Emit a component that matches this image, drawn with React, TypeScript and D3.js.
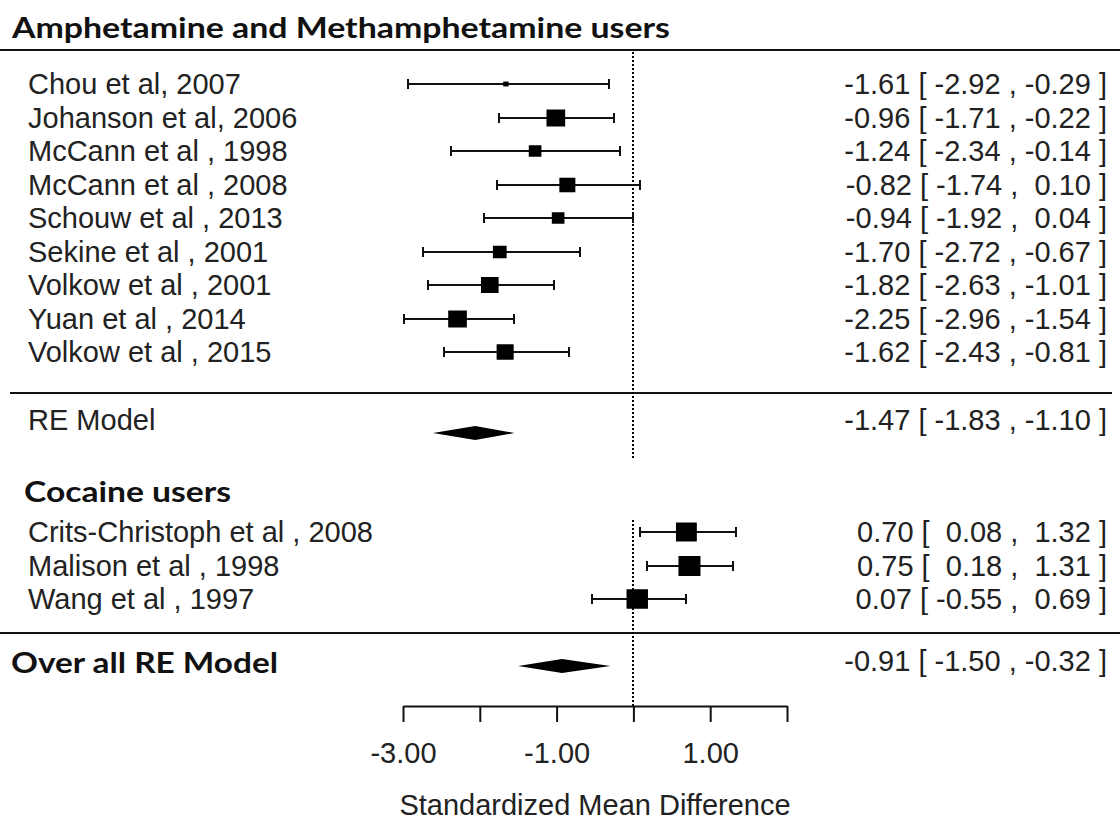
import { useEffect, useRef } from "react";
import * as d3 from "d3";

// Amphetamine / methamphetamine studies
const amphStudies = [
  "Chou et al, 2007",
  "Johanson et al, 2006",
  "McCann et al , 1998",
  "McCann et al , 2008",
  "Schouw et al , 2013",
  "Sekine et al , 2001",
  "Volkow et al , 2001",
  "Yuan et al , 2014",
  "Volkow et al , 2015",
];
const amphEst = [-1.66, -1.01, -1.28, -0.86, -0.98, -1.74, -1.87, -2.29, -1.67];
const amphLo = [-2.94, -1.75, -2.37, -1.77, -1.94, -2.74, -2.67, -2.99, -2.47];
const amphHi = [-0.32, -0.25, -0.17, 0.08, 0.0, -0.69, -1.04, -1.56, -0.84];
const amphWeight = [0.6, 7.2, 3.3, 5.3, 3.3, 3.9, 6.4, 7.2, 6.0];
const amphCiText = [
  "-1.61 [ -2.92 , -0.29 ]",
  "-0.96 [ -1.71 , -0.22 ]",
  "-1.24 [ -2.34 , -0.14 ]",
  "-0.82 [ -1.74 ,  0.10 ]",
  "-0.94 [ -1.92 ,  0.04 ]",
  "-1.70 [ -2.72 , -0.67 ]",
  "-1.82 [ -2.63 , -1.01 ]",
  "-2.25 [ -2.96 , -1.54 ]",
  "-1.62 [ -2.43 , -0.81 ]",
];

// Cocaine studies
const cocStudies = [
  "Crits-Christoph et al , 2008",
  "Malison et al , 1998",
  "Wang et al , 1997",
];
const cocEst = [0.69, 0.73, 0.05];
const cocLo = [0.08, 0.18, -0.54];
const cocHi = [1.33, 1.3, 0.68];
const cocWeight = [9.0, 10.0, 9.5];
const cocCiText = [
  "0.70 [  0.08 ,  1.32 ]",
  "0.75 [  0.18 ,  1.31 ]",
  "0.07 [ -0.55 ,  0.69 ]",
];

// Summary diamonds (RE Model, overall)
const summaryLabels = ["RE Model", "Over all RE Model"];
const summaryEst = [-2.06, -0.93];
const summaryLo = [-2.61, -1.5];
const summaryHi = [-1.55, -0.3];
const summaryCiText = ["-1.47 [ -1.83 , -1.10 ]", "-0.91 [ -1.50 , -0.32 ]"];

const groupTitles = ["Amphetamine and Methamphetamine users", "Cocaine users"];

const axisTicks = [-3, -2, -1, 0, 1, 2];
const axisLabels = ["-3.00", "", "-1.00", "", "1.00", ""];
const axisTitle = "Standardized Mean Difference";

const W = 1120;
const H = 823;
const SANS = "'Liberation Sans', Arial, sans-serif";
const BOLD = "Lato, 'Open Sans', sans-serif";

export default function App() {
  const svgRef = useRef<SVGSVGElement>(null);

  useEffect(() => {
    if (!svgRef.current) return;
    document.body.style.margin = "0";

    const svg = d3.select(svgRef.current);
    svg.selectAll("*").remove();

    svg.append("rect").attr("width", W).attr("height", H).attr("fill", "#fff");

    // scales
    const x = d3.scaleLinear().domain([-3, 2]).range([403, 787]);
    const size = d3.scaleSqrt().domain([0, 10]).range([0, 20]);
    const amphY = d3.scaleLinear().domain([0, 1]).range([84, 117.5]);
    const cocY = d3.scaleLinear().domain([0, 1]).range([532, 565.5]);
    const summaryY = [433, 666];
    const summaryTextY = [430, 673];
    const zeroX = Math.round(x(0));

    // horizontal rules
    const rules = [
      { y: 50, x1: 0, x2: W },
      { y: 393, x1: 10, x2: 1112 },
      { y: 633, x1: 0, x2: W },
    ];
    svg
      .selectAll("line.rule")
      .data(rules)
      .join("line")
      .attr("class", "rule")
      .attr("x1", (d) => d.x1)
      .attr("x2", (d) => d.x2)
      .attr("y1", (d) => d.y)
      .attr("y2", (d) => d.y)
      .attr("stroke", "#111")
      .attr("stroke-width", 2);

    // dotted reference line at zero
    [
      [52, 458],
      [520, 706],
    ].forEach(([y1, y2]) => {
      svg
        .append("line")
        .attr("x1", zeroX)
        .attr("x2", zeroX)
        .attr("y1", y1)
        .attr("y2", y2)
        .attr("stroke", "#000")
        .attr("stroke-width", 2)
        .attr("stroke-dasharray", "2,2");
    });

    // group titles
    const titleSpec = [
      { text: groupTitles[0], x: 12, y: 38, len: 658 },
      { text: groupTitles[1], x: 24, y: 502, len: 207 },
      { text: summaryLabels[1], x: 11, y: 673, len: 267 },
    ];
    titleSpec.forEach((t) => {
      svg
        .append("text")
        .attr("x", t.x)
        .attr("y", t.y)
        .attr("textLength", t.len)
        .attr("lengthAdjust", "spacingAndGlyphs")
        .style("font-family", BOLD)
        .style("font-weight", 700)
        .style("font-size", "29px")
        .style("fill", "#111")
        .text(t.text);
    });

    // study rows
    const drawRows = (
      names: string[],
      est: number[],
      lo: number[],
      hi: number[],
      wt: number[],
      ciText: string[],
      y: d3.ScaleLinear<number, number>
    ) => {
      const rows = names.map((n, i) => ({
        name: n,
        est: est[i],
        lo: lo[i],
        hi: hi[i],
        w: wt[i],
        ci: ciText[i],
        y: Math.round(y(i)),
      }));
      const g = svg.append("g");

      g.selectAll("text.name")
        .data(rows)
        .join("text")
        .attr("class", "name")
        .attr("x", 28)
        .attr("y", (d) => d.y + 10)
        .style("font-family", SANS)
        .style("font-size", "29px")
        .style("fill", "#222")
        .text((d) => d.name);

      g.selectAll("text.ci")
        .data(rows)
        .join("text")
        .attr("class", "ci")
        .attr("x", 1107)
        .attr("y", (d) => d.y + 10)
        .attr("text-anchor", "end")
        .style("white-space", "pre")
        .style("font-family", SANS)
        .style("font-size", "29px")
        .style("fill", "#222")
        .text((d) => d.ci);

      g.selectAll("line.ci")
        .data(rows)
        .join("line")
        .attr("class", "ci")
        .attr("x1", (d) => x(d.lo))
        .attr("x2", (d) => x(d.hi))
        .attr("y1", (d) => d.y)
        .attr("y2", (d) => d.y)
        .attr("stroke", "#111")
        .attr("stroke-width", 2);

      rows.forEach((d) => {
        [d.lo, d.hi].forEach((v) => {
          const cx = Math.round(x(v));
          g.append("line")
            .attr("x1", cx)
            .attr("x2", cx)
            .attr("y1", d.y - 5)
            .attr("y2", d.y + 5)
            .attr("stroke", "#111")
            .attr("stroke-width", 2);
        });
      });

      g.selectAll("rect.box")
        .data(rows)
        .join("rect")
        .attr("class", "box")
        .attr("x", (d) => x(d.est) - (size(d.w) * 1.1) / 2)
        .attr("y", (d) => d.y - size(d.w) / 2)
        .attr("width", (d) => size(d.w) * 1.1)
        .attr("height", (d) => size(d.w))
        .attr("fill", "#000");
    };

    drawRows(amphStudies, amphEst, amphLo, amphHi, amphWeight, amphCiText, amphY);
    drawRows(cocStudies, cocEst, cocLo, cocHi, cocWeight, cocCiText, cocY);

    // summary diamonds
    summaryLabels.forEach((label, i) => {
      const cy = summaryY[i];
      const pts: [number, number][] = [
        [x(summaryLo[i]), cy],
        [x(summaryEst[i]), cy - 7],
        [x(summaryHi[i]), cy],
        [x(summaryEst[i]), cy + 7],
      ];
      svg
        .append("path")
        .attr("d", d3.line()(pts) + "Z")
        .attr("fill", "#000");

      if (i === 0) {
        svg
          .append("text")
          .attr("x", 28)
          .attr("y", summaryTextY[i])
          .style("font-family", SANS)
          .style("font-size", "29px")
          .style("fill", "#222")
          .text(label);
      }

      svg
        .append("text")
        .attr("x", 1107)
        .attr("y", summaryTextY[i] - (i === 0 ? 0 : 2))
        .attr("text-anchor", "end")
        .style("white-space", "pre")
        .style("font-family", SANS)
        .style("font-size", "29px")
        .style("fill", "#222")
        .text(summaryCiText[i]);
    });

    // x axis
    const axis = d3
      .axisBottom(x)
      .tickValues(axisTicks)
      .tickSize(16)
      .tickSizeOuter(0)
      .tickPadding(20)
      .tickFormat((_, i) => axisLabels[i]);

    const ax = svg.append("g").attr("transform", "translate(0,706)").call(axis);
    ax.select(".domain").attr("stroke", "#111").attr("stroke-width", 2);
    ax.selectAll(".tick line").attr("stroke", "#111").attr("stroke-width", 2);
    ax.selectAll(".tick text")
      .style("font-family", SANS)
      .style("font-size", "29px")
      .style("fill", "#222");

    svg
      .append("text")
      .attr("x", x(-0.5))
      .attr("y", 815)
      .attr("text-anchor", "middle")
      .style("font-family", SANS)
      .style("font-size", "29px")
      .style("fill", "#222")
      .text(axisTitle);
  }, []);

  return (
    <svg
      ref={svgRef}
      width={W}
      height={H}
      style={{ display: "block" }}
    />
  );
}
